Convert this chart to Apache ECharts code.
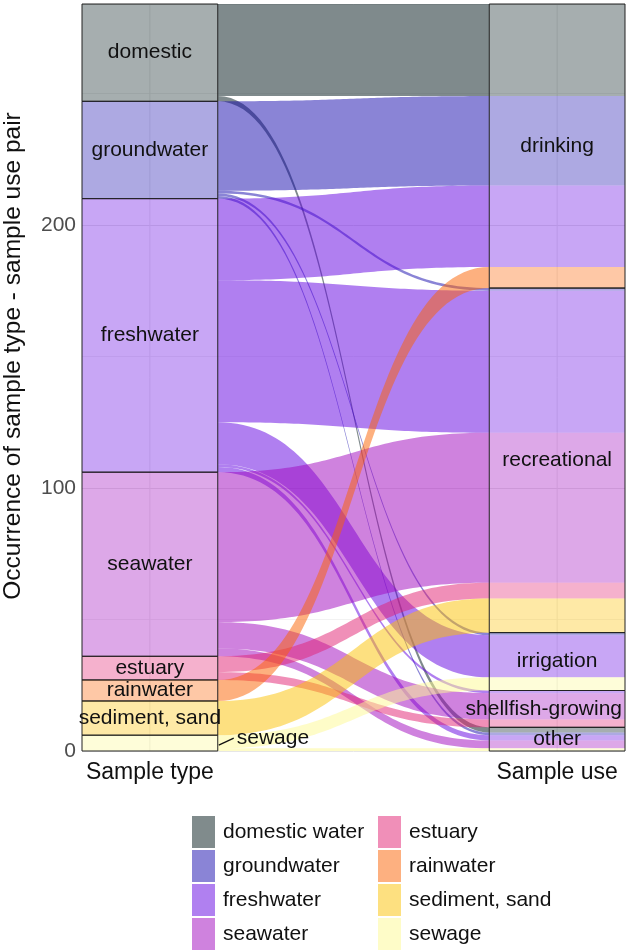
<!DOCTYPE html>
<html><head><meta charset="utf-8">
<script src="https://cdn.jsdelivr.net/npm/echarts@6/dist/echarts.min.js"></script>
<style>html,body{margin:0;padding:0;background:#fff}#c{width:626px;height:951px}</style>
</head><body><div id="c"></div>
<script>
// ---------- data ----------
const sampleTypes = ['domestic', 'groundwater', 'freshwater', 'seawater', 'estuary', 'rainwater', 'sediment, sand', 'sewage'];
const legendLabels = ['domestic water', 'groundwater', 'freshwater', 'seawater', 'estuary', 'rainwater', 'sediment, sand', 'sewage'];
const sampleUses = ['drinking', 'recreational', 'irrigation', 'shellfish-growing', 'other'];
// counts for each sample type, in the order of sampleUses
const domesticCounts    = [35, 0, 0, 0, 2];
const groundwaterCounts = [34, 1, 1, 0, 1];
const freshwaterCounts  = [31, 54, 16, 1, 2];
const seawaterCounts    = [0, 57, 0, 10, 3];
const estuaryCounts     = [0, 6, 0, 3, 0];
const rainwaterCounts   = [8, 0, 0, 0, 0];
const sedimentCounts    = [0, 13, 0, 0, 0];
const sewageCounts      = [0, 0, 5, 0, 1];
const yTickLabels = [0, 100, 200];
const axisNames = ['Sample type', 'Sample use'];
const baseColors = [[0, 22, 25], [21, 9, 173], [97, 0, 225], [159, 5, 189], [225, 31, 113], [251, 97, 0], [251, 193, 1], [253, 249, 145]];

// ---------- derived ----------
const counts = [domesticCounts, groundwaterCounts, freshwaterCounts, seawaterCounts, estuaryCounts, rainwaterCounts, sedimentCounts, sewageCounts];
const typeTotals = counts.map(r => r.reduce((a, b) => a + b, 0));
const useTotals = sampleUses.map((u, j) => counts.reduce((a, r) => a + r[j], 0));
const total = typeTotals.reduce((a, b) => a + b, 0);
const rgba = (c, a) => `rgba(${c[0]},${c[1]},${c[2]},${a})`;
const mixWhite = (c, a) => `rgb(${c.map(v => Math.round(255 - a * (255 - v))).join(',')})`;

const typeTop = []; { let y = total; typeTotals.forEach((t, i) => { typeTop[i] = y; y -= t; }); }
const useTop = []; { let y = total; useTotals.forEach((t, j) => { useTop[j] = y; y -= t; }); }

const flowsByType = sampleTypes.map(() => []);
const rightLodes = [];
{
  const leftCursor = typeTop.slice();
  const rightCursor = useTop.slice();
  const leftPos = {}, rightPos = {};
  counts.forEach((row, i) => row.forEach((c, j) => { if (c > 0) { leftPos[i + '_' + j] = [leftCursor[i], leftCursor[i] - c]; leftCursor[i] -= c; } }));
  sampleUses.forEach((u, j) => counts.forEach((row, i) => { const c = row[j]; if (c > 0) { rightPos[i + '_' + j] = [rightCursor[j], rightCursor[j] - c]; rightCursor[j] -= c; rightLodes.push([rightPos[i + '_' + j][0], rightPos[i + '_' + j][1], i]); } }));
  counts.forEach((row, i) => row.forEach((c, j) => { if (c > 0) { const L = leftPos[i + '_' + j], R = rightPos[i + '_' + j]; flowsByType[i].push([L[0], L[1], R[0], R[1], j]); } }));
}

const X_LEFT = 1, X_RIGHT = 2, HALF_W = 1 / 6;
const FONT = "'Liberation Sans', Arial, Helvetica, sans-serif";
const measureCtx = document.createElement('canvas').getContext('2d');
function textWidth(t, size) { measureCtx.font = size + 'px ' + FONT; return measureCtx.measureText(t).width; }

function bez(s) {
  const d = 0.5;
  const X = 3 * s * (1 - s) * (1 - s) * d + 3 * s * s * (1 - s) * (1 - d) + s * s * s;
  const Y = 3 * s * s * (1 - s) + s * s * s;
  return [X, Y];
}

function flowRender(typeIdx) {
  return function (params, api) {
    const yLt = api.value(0), yLb = api.value(1), yRt = api.value(2), yRb = api.value(3);
    const x0 = X_LEFT + HALF_W, x1 = X_RIGHT - HALF_W;
    const N = 60, pts = [];
    for (let k = 0; k <= N; k++) {
      const [bx, by] = bez(k / N);
      pts.push(api.coord([x0 + (x1 - x0) * bx, yLt + (yRt - yLt) * by]));
    }
    for (let k = N; k >= 0; k--) {
      const [bx, by] = bez(k / N);
      pts.push(api.coord([x0 + (x1 - x0) * bx, yLb + (yRb - yLb) * by]));
    }
    return { type: 'polygon', shape: { points: pts }, style: { fill: rgba(baseColors[typeIdx], 0.5) } };
  };
}

const flowSeries = sampleTypes.map((t, i) => ({
  type: 'custom', name: legendLabels[i], z: 2,
  itemStyle: { color: mixWhite(baseColors[i], 0.5) },
  renderItem: flowRender(i),
  data: flowsByType[i],
  encode: { x: -1, y: [0, 1, 2, 3] },
  silent: true
}));

// strata items: [kind, top, bottom, idx]  kind 0 = left stratum, 1 = right lode fill, 2 = right stratum outline
const strataData = [];
sampleTypes.forEach((t, i) => strataData.push([0, typeTop[i], typeTop[i] - typeTotals[i], i]));
rightLodes.forEach(l => strataData.push([1, l[0], l[1], l[2]]));
sampleUses.forEach((u, j) => strataData.push([2, useTop[j], useTop[j] - useTotals[j], j]));

const LABEL_SIZE = 21;
function strataRender(params, api) {
  const kind = api.value(0), top = api.value(1), bot = api.value(2), idx = api.value(3);
  const xc = kind === 0 ? X_LEFT : X_RIGHT;
  const p0 = api.coord([xc - HALF_W, top]);
  const p1 = api.coord([xc + HALF_W, bot]);
  const rect = { x: p0[0], y: p0[1], width: p1[0] - p0[0], height: p1[1] - p0[1] };
  const children = [];
  if (kind === 1) {
    children.push({ type: 'rect', shape: rect, style: { fill: rgba(baseColors[idx], 0.35) } });
  } else {
    children.push({ type: 'rect', shape: rect, style: { fill: kind === 0 ? rgba(baseColors[idx], 0.35) : 'none', stroke: '#222', lineWidth: 1 } });
    const c = api.coord([xc, (top + bot) / 2]);
    const label = kind === 0 ? sampleTypes[idx] : sampleUses[idx];
    if (kind === 0 && idx === sampleTypes.length - 1) {
      const a = api.coord([xc + HALF_W, (top + bot) / 2]);
      children.push({ type: 'line', shape: { x1: a[0] + 1, y1: a[1] + 2, x2: a[0] + 16, y2: a[1] - 5 }, style: { stroke: '#111', lineWidth: 1.3 } });
      children.push({ type: 'text', x: a[0] + 19, y: a[1] - 5, style: { text: label, fill: '#111', fontSize: LABEL_SIZE, fontFamily: FONT, align: 'left', verticalAlign: 'middle' } });
    } else {
      let cx = c[0];
      const w = textWidth(label, LABEL_SIZE);
      const maxRight = api.getWidth() - 4;
      if (cx + w / 2 > maxRight) cx = maxRight - w / 2;
      children.push({ type: 'text', x: cx, y: c[1], style: { text: label, fill: '#111', fontSize: LABEL_SIZE, fontFamily: FONT, align: 'center', verticalAlign: 'middle' } });
    }
  }
  return { type: 'group', children };
}

function vgridRender(params, api) {
  const x = api.value(0);
  const a = api.coord([x, 0]), b = api.coord([x, total]);
  return { type: 'line', shape: { x1: a[0], y1: a[1], x2: b[0], y2: b[1] }, style: { stroke: '#ebebeb', lineWidth: 1 } };
}

const legendCommon = { orient: 'vertical', top: 816, itemWidth: 23, itemHeight: 32, itemGap: 2, icon: 'rect', selectedMode: false, padding: 0, textStyle: { fontSize: 21, color: '#111', fontFamily: FONT, padding: [0, 0, 0, 3] } };

const chart = echarts.init(document.getElementById('c'), null, { renderer: 'canvas' });
chart.setOption({
  backgroundColor: '#fff',
  animation: false,
  grid: { left: 82, right: 1, top: 4, bottom: 200, containLabel: false },
  xAxis: {
    type: 'value', min: X_LEFT - HALF_W, max: X_RIGHT + HALF_W,
    axisLine: { show: false }, axisTick: { show: false }, splitLine: { show: false },
    axisLabel: { customValues: [X_LEFT, X_RIGHT], formatter: v => axisNames[Math.round(v) - 1], fontSize: 23, color: '#111', fontFamily: FONT, margin: 10 }
  },
  yAxis: {
    type: 'value', min: 0, max: total, interval: 50,
    axisLine: { show: false }, axisTick: { show: false },
    splitLine: { show: true, lineStyle: { color: ['#e6e6e6', '#f2f2f2'], width: 1 } },
    axisLabel: { customValues: yTickLabels, fontSize: 21, color: '#4d4d4d', fontFamily: FONT, margin: 6 }
  },
  legend: [
    Object.assign({ data: legendLabels.slice(0, 4), left: 192 }, legendCommon),
    Object.assign({ data: legendLabels.slice(4), left: 378 }, legendCommon)
  ],
  graphic: [{
    type: 'text', x: 13, y: 356, rotation: Math.PI / 2,
    style: { text: 'Occurrence of sample type - sample use pair', fontSize: 24.5, fill: '#111', fontFamily: FONT, align: 'center', verticalAlign: 'middle' }
  }],
  series: [
    { type: 'custom', name: 'vgrid', z: 1, silent: true, renderItem: vgridRender, data: [[X_LEFT], [X_RIGHT]], encode: { x: 0 } },
    ...flowSeries,
    { type: 'custom', name: 'strata', z: 3, silent: true, renderItem: strataRender, data: strataData, encode: { x: -1, y: [1, 2] } }
  ]
});
</script></body></html>
